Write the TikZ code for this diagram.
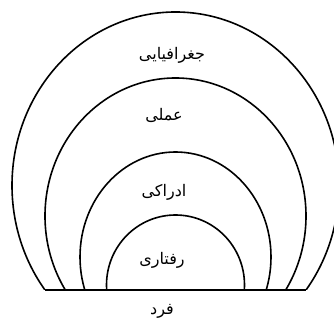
\documentclass[tikz,border=0pt]{standalone}
\usepackage{fontspec}
\newfontfamily\farsifont[Script=Arabic]{DejaVu Sans}
\TeXXeTstate=1
\usepackage{tikz}
\usetikzlibrary{positioning}
\tikzset{
    ring/.style={draw, line width=1.6pt},
    ground/.style={draw, line width=1.9pt},
    zone/.style={font=\farsifont\fontsize{16}{18}\selectfont, inner sep=1pt},
}

\begin{document}
\begin{tikzpicture}[x=1pt, y=1pt]
    \useasboundingbox (0,0) rectangle (334,320);

    % nested rings, cut at the ground line
    \begin{scope}
        \clip (0,30) rectangle (334,320);
        \foreach \rx/\ry/\cy in {163.5/173.5/134.5, 130.5/138/104,
                                 95.5/105/63, 69/70/35}
            \draw[ring] (175.5,\cy) ellipse [x radius=\rx, y radius=\ry];
    \end{scope}

    \coordinate (gl) at (45,30);
    \coordinate (gr) at (306,30);
    \draw[ground] (gl) -- (gr);

    \node[zone] (geo) at (172,265) {\beginR جغرافیایی\endR};
    \node[zone] (amali) at (164,205) {\beginR عملی\endR};
    \node[zone] (edraki) at (164,128) {\beginR ادراکی\endR};
    \node[zone] (raftari) at (162,60) {\beginR رفتاری\endR};
    \node[zone] (fard) at (162,9) {\beginR فرد\endR};
\end{tikzpicture}
\end{document}
